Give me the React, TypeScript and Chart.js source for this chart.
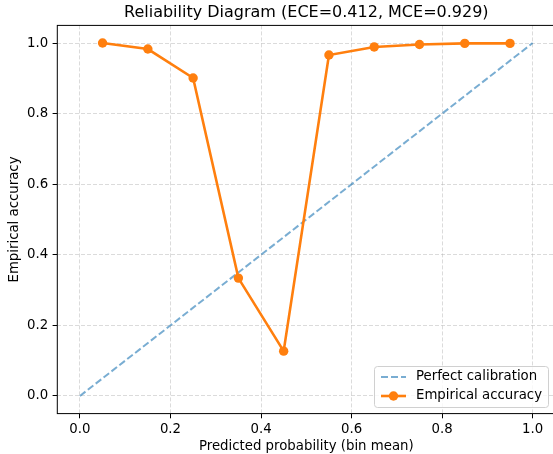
import React, { useEffect, useRef } from "react";
import { Chart, registerables } from "chart.js";

Chart.register(...registerables);

const binCenters = [0.05, 0.15, 0.25, 0.35, 0.45, 0.55, 0.65, 0.75, 0.85, 0.95];
const empiricalAccuracy = [1.0, 0.983, 0.901, 0.334, 0.127, 0.966, 0.989, 0.996, 0.999, 0.999];
const perfectX = [0, 1];
const perfectY = [0, 1];
const titleText = "Reliability Diagram (ECE=0.412, MCE=0.929)";
const xLabel = "Predicted probability (bin mean)";
const yLabel = "Empirical accuracy";
const legendLabels = ["Perfect calibration", "Empirical accuracy"];

const FONT = "'DejaVu Sans', sans-serif";
const ORANGE = "#ff7f0e";
const BLUE = "rgba(31,119,180,0.6)";
const FS = 13.3;

const overlay = {
  id: "overlay",
  afterDatasetsDraw(chart: any) {
    const { ctx, chartArea: a } = chart;
    ctx.save();
    ctx.strokeStyle = "#000";
    ctx.lineWidth = 1;
    ctx.strokeRect(a.left, a.top, a.right - a.left, a.bottom - a.top);
    ctx.restore();
  },
  afterDraw(chart: any) {
    const { ctx, chartArea: a } = chart;
    const cx = (a.left + a.right) / 2;
    ctx.save();
    ctx.fillStyle = "#000";
    ctx.textAlign = "center";
    ctx.textBaseline = "middle";
    ctx.font = `16px ${FONT}`;
    ctx.fillText(titleText, cx, 12.5);
    ctx.font = `${FS}px ${FONT}`;
    ctx.fillText(xLabel, cx, 446.5);
    ctx.save();
    ctx.translate(15, (a.top + a.bottom) / 2);
    ctx.rotate(-Math.PI / 2);
    ctx.fillText(yLabel, 0, 0);
    ctx.restore();

    // legend
    const lx = 374.5, ly = 366.5, lw = 174, lh = 41, r = 3;
    ctx.beginPath();
    ctx.moveTo(lx + r, ly);
    ctx.lineTo(lx + lw - r, ly);
    ctx.arcTo(lx + lw, ly, lx + lw, ly + r, r);
    ctx.lineTo(lx + lw, ly + lh - r);
    ctx.arcTo(lx + lw, ly + lh, lx + lw - r, ly + lh, r);
    ctx.lineTo(lx + r, ly + lh);
    ctx.arcTo(lx, ly + lh, lx, ly + lh - r, r);
    ctx.lineTo(lx, ly + r);
    ctx.arcTo(lx, ly, lx + r, ly, r);
    ctx.closePath();
    ctx.fillStyle = "rgba(255,255,255,0.8)";
    ctx.fill();
    ctx.strokeStyle = "#d0d0d0";
    ctx.lineWidth = 1;
    ctx.stroke();

    const rows = [377, 396];
    ctx.strokeStyle = BLUE;
    ctx.lineWidth = 2;
    ctx.setLineDash([7, 3]);
    ctx.beginPath();
    ctx.moveTo(381, rows[0]);
    ctx.lineTo(406, rows[0]);
    ctx.stroke();
    ctx.setLineDash([]);
    ctx.strokeStyle = ORANGE;
    ctx.lineWidth = 2.6;
    ctx.beginPath();
    ctx.moveTo(381, rows[1]);
    ctx.lineTo(406, rows[1]);
    ctx.stroke();
    ctx.fillStyle = ORANGE;
    ctx.beginPath();
    ctx.arc(393.5, rows[1], 4.7, 0, Math.PI * 2);
    ctx.fill();

    ctx.fillStyle = "#000";
    ctx.textAlign = "left";
    ctx.font = `${FS}px ${FONT}`;
    ctx.fillText(legendLabels[0], 416, rows[0]);
    ctx.fillText(legendLabels[1], 416, rows[1]);
    ctx.restore();
  },
};

export default function App() {
  const ref = useRef<HTMLCanvasElement>(null);
  useEffect(() => {
    document.body.style.margin = "0";
    document.body.style.overflow = "hidden";
    const canvas = ref.current!;
    const gridCommon = {
      color: "rgba(176,176,176,0.45)",
      lineWidth: 1,
      drawTicks: true,
      tickLength: 4.7,
      tickColor: "#000",
      tickWidth: 1,
      tickBorderDash: [],
    };
    const tickCommon = {
      color: "#000",
      font: { family: FONT, size: FS },
      stepSize: 0.2,
      includeBounds: false,
      callback: (v: any) => Number(v).toFixed(1),
    };
    const chart = new Chart(canvas, {
      type: "scatter",
      data: {
        datasets: [
          {
            label: legendLabels[0],
            data: perfectX.map((x, i) => ({ x, y: perfectY[i] })),
            showLine: true,
            borderColor: BLUE,
            borderWidth: 2,
            borderDash: [7, 3],
            pointRadius: 0,
            pointHoverRadius: 0,
            order: 2,
          },
          {
            label: legendLabels[1],
            data: binCenters.map((x, i) => ({ x, y: empiricalAccuracy[i] })),
            showLine: true,
            borderColor: ORANGE,
            backgroundColor: ORANGE,
            borderWidth: 2.6,
            pointRadius: 4.7,
            pointBorderWidth: 0,
            pointBackgroundColor: ORANGE,
            order: 1,
          },
        ],
      },
      options: {
        responsive: false,
        animation: false,
        devicePixelRatio: 1,
        layout: { padding: { top: 25.4, left: 0, right: 4.4, bottom: 0 } },
        plugins: {
          legend: { display: false },
          title: { display: false },
          tooltip: { enabled: false },
        },
        events: [],
        scales: {
          x: {
            type: "linear",
            min: -0.05,
            max: 1.05,
            grid: gridCommon,
            border: { display: false, dash: [4, 2] },
            ticks: { ...tickCommon, padding: 3.5, maxRotation: 0 },
            afterFit: (s: any) => {
              s.height = 40.4;
            },
          },
          y: {
            type: "linear",
            min: -0.05,
            max: 1.05,
            grid: gridCommon,
            border: { display: false, dash: [4, 2] },
            ticks: { ...tickCommon, padding: 4.5 },
            afterFit: (s: any) => {
              s.width = 57.3;
            },
          },
        },
      } as any,
      plugins: [overlay],
    });
    return () => chart.destroy();
  }, []);
  return (
    <div style={{ width: 560, height: 454 }}>
      <canvas ref={ref} width={560} height={454} style={{ display: "block" }} />
    </div>
  );
}
